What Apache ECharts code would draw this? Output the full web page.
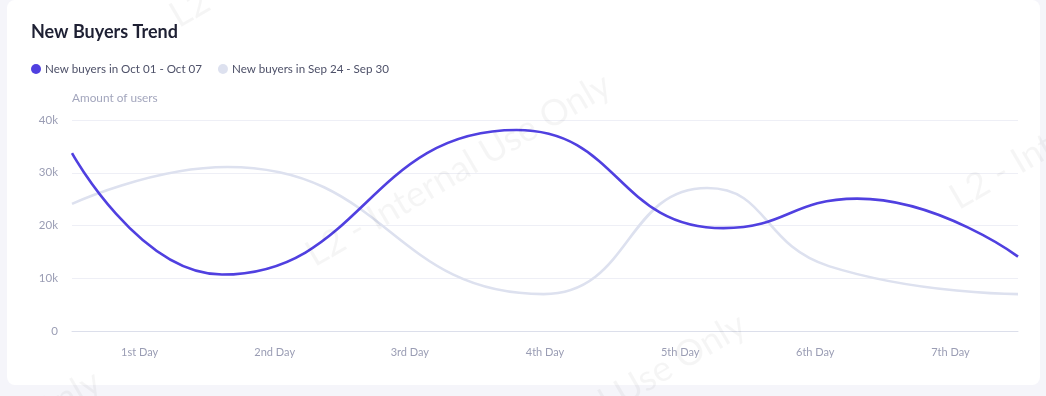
<!DOCTYPE html>
<html>
<head>
<meta charset="utf-8">
<script src="https://cdn.jsdelivr.net/npm/echarts@6/dist/echarts.min.js"></script>
<style>
html,body{margin:0;padding:0;background:#f5f5fa;}
#chart{width:1046px;height:396px;}
</style>
</head>
<body>
<div id="chart"></div>
<script>
const dayLabels = ['1st Day','2nd Day','3rd Day','4th Day','5th Day','6th Day','7th Day'];
// turning points along the week (0 = start of day 1, 7 = end of day 7) with values
const octX = [0, 1.11, 3.29, 4.82, 5.81, 7];
const octValues = [33700, 10700, 38100, 19500, 25100, 14100];
const sepX = [0, 1.15, 3.49, 4.7, 5.6, 7];
const sepValues = [24100, 31100, 7000, 27100, 12300, 7000];
const yTicks = [0,10000,20000,30000,40000];
const seriesNames = ['New buyers in Oct 01 - Oct 07','New buyers in Sep 24 - Sep 30'];
const titleText = 'New Buyers Trend';
const yAxisName = 'Amount of users';
const watermarkText = 'L2 - Internal Use Only';

const FONT = 'Lato, "Noto Sans", sans-serif';
const toPairs = (xs, vals) => vals.map((v,i) => [xs[i], v]);

const wmStarts = [[318,273],[962,216],[182,34],[453,513],[-192,570]];
const graphics = [
  {type:'rect', shape:{x:7,y:0,width:1033,height:385,r:8}, style:{fill:'#ffffff'}, z:-10, silent:true}
].concat(wmStarts.map(p => ({
  type:'text', x:p[0], y:p[1], rotation:0.53, z:100, silent:true,
  style:{text:watermarkText, fill:'rgba(0,0,0,0.04)', font:'36px ' + FONT, textAlign:'left', textVerticalAlign:'bottom'}
})));

const chart = echarts.init(document.getElementById('chart'));
chart.setOption({
  backgroundColor:'#f5f5fa',
  animation:false,
  title:{text:titleText, left:26, top:18, textStyle:{fontFamily:FONT, fontSize:18, fontWeight:'bold', color:'#1e2033'}},
  legend:{
    left:26, top:58, itemWidth:10, itemHeight:10, itemGap:16, icon:'circle',
    textStyle:{fontFamily:FONT, fontSize:11.6, color:'#4d5068', padding:[0,0,0,-1]},
    data:seriesNames
  },
  graphic:graphics,
  grid:{left:72, right:28, top:120, bottom:65},
  xAxis:[
    {type:'category', data:dayLabels, boundaryGap:true,
     axisLine:{lineStyle:{color:'#dcdfeb'}},
     axisTick:{alignWithLabel:true, length:5, lineStyle:{color:'#dcdfeb'}},
     axisLabel:{fontFamily:FONT, fontSize:11, color:'#9a9db4', margin:16},
     splitLine:{show:false}},
    {type:'value', min:0, max:7, show:false, splitLine:{show:false}}
  ],
  yAxis:{
    type:'value', min:0, max:40000, interval:10000,
    name:yAxisName, nameLocation:'end', nameGap:16,
    nameTextStyle:{fontFamily:FONT, fontSize:11.8, color:'#a3a6bd', align:'left'},
    axisLine:{show:false}, axisTick:{show:false},
    axisLabel:{fontFamily:FONT, fontSize:11.5, color:'#9a9db4', margin:14,
      formatter:(v) => yTicks.indexOf(v) >= 0 ? (v === 0 ? '0' : (v/1000) + 'k') : ''},
    splitLine:{lineStyle:{color:'#eeeff6'}}
  },
  series:[
    {name:seriesNames[0], type:'line', xAxisIndex:1, smooth:0.5, showSymbol:false,
     data:toPairs(octX, octValues), itemStyle:{color:'#5040e0'}, lineStyle:{width:2.6, color:'#5040e0'}, z:3},
    {name:seriesNames[1], type:'line', xAxisIndex:1, smooth:0.5, showSymbol:false,
     data:toPairs(sepX, sepValues), itemStyle:{color:'#dde1ef'}, lineStyle:{width:2.6, color:'#dde1ef'}, z:2}
  ]
});
</script>
</body>
</html>
